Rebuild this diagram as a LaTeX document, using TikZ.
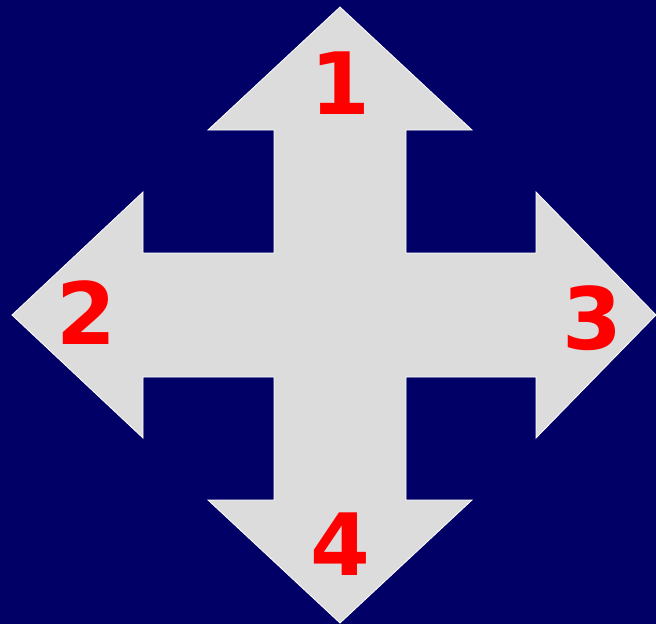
\documentclass[tikz,border=0pt]{standalone}
\usepackage{fontspec}
\setmainfont{DejaVu Sans}
\usetikzlibrary{calc}
\definecolor{darknavy}{RGB}{0,0,102}
\definecolor{lightgrey}{RGB}{220,220,220}
\definecolor{numred}{RGB}{255,0,0}
\tikzset{num/.style={text=numred, font=\fontsize{86}{86}\selectfont\bfseries, inner sep=0pt}}
\begin{document}
\begin{tikzpicture}[x=1pt,y=-1pt]
                \def\cx{340}
                \def\cy{315}
                \def\w{66}
                \def\h{132}
                \fill[darknavy] (0,0) rectangle (656,624);
                \useasboundingbox (0,0) rectangle (656,624);
                \coordinate (top) at (\cx, 7);
                \coordinate (left) at (12, \cy);
                \coordinate (right) at (656, \cy);
                \coordinate (bottom) at (\cx, 623);
                \filldraw[fill=lightgrey, draw=white, thick, line join=miter]
                  (top) -- (\cx+\h, 130) -- (\cx+\w, 130) -- (\cx+\w, 253)
                  -- (536, 253) -- (536, 192) -- (right) -- (536, 438)
                  -- (536, 377) -- (\cx+\w, 377) -- (\cx+\w, 500) -- (\cx+\h, 500)
                  -- (bottom) -- (\cx-\h, 500) -- (\cx-\w, 500) -- (\cx-\w, 377)
                  -- (143, 377) -- (143, 438) -- (left) -- (143, 192)
                  -- (143, 253) -- (\cx-\w, 253) -- (\cx-\w, 130) -- (\cx-\h, 130) -- cycle;
                \node[num] (n1) at (\cx, 83) {1};
                \node[num] (n2) at (86, 313) {2};
                \node[num] (n3) at (592, 318) {3};
                \node[num] (n4) at (\cx, 544) {4};
            \end{tikzpicture}
\end{document}
